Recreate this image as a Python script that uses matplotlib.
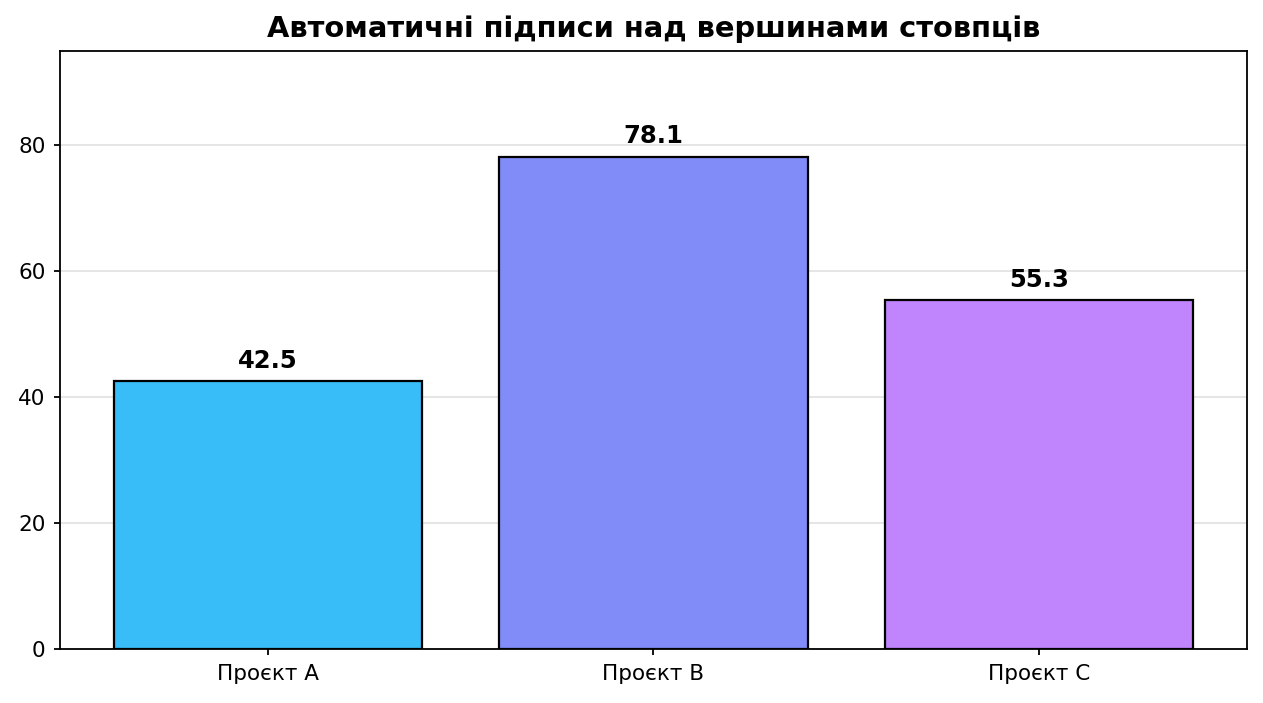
import matplotlib
matplotlib.use("Agg")
import matplotlib.pyplot as plt

plt.rcParams["font.family"] = ["DejaVu Sans"]

categories = ["Проєкт A", "Проєкт B", "Проєкт C"]
values = [42.5, 78.1, 55.3]
colors = ["#38bdf8", "#818cf8", "#c084fc"]

fig = plt.figure(figsize=(12.63, 7.03), dpi=100)
ax = fig.add_axes([0.0475, 0.0768, 0.9398, 0.8507])

bars = ax.bar(categories, values, width=0.8, color=colors,
              edgecolor="black", linewidth=1.6, zorder=3)
for rect, v in zip(bars, values):
    ax.annotate(f"{v}", (rect.get_x() + rect.get_width() / 2, v),
                xytext=(0, 6), textcoords="offset points",
                ha="center", va="bottom", fontsize=17.5, fontweight="bold")

ax.set_ylim(0, max(values) * 1.215)
ax.set_yticks([0, 20, 40, 60, 80])
ax.grid(True, axis="y", color="#e0e0e0", linewidth=1.2, zorder=0)
for s in ax.spines.values():
    s.set_linewidth(1.3)
ax.tick_params(labelsize=15.5, width=1.3, length=4.5, pad=6)
ax.set_title("Автоматичні підписи над вершинами стовпців",
             fontsize=20.8, fontweight="bold", pad=10)

fig.savefig("out.png", dpi=100)
